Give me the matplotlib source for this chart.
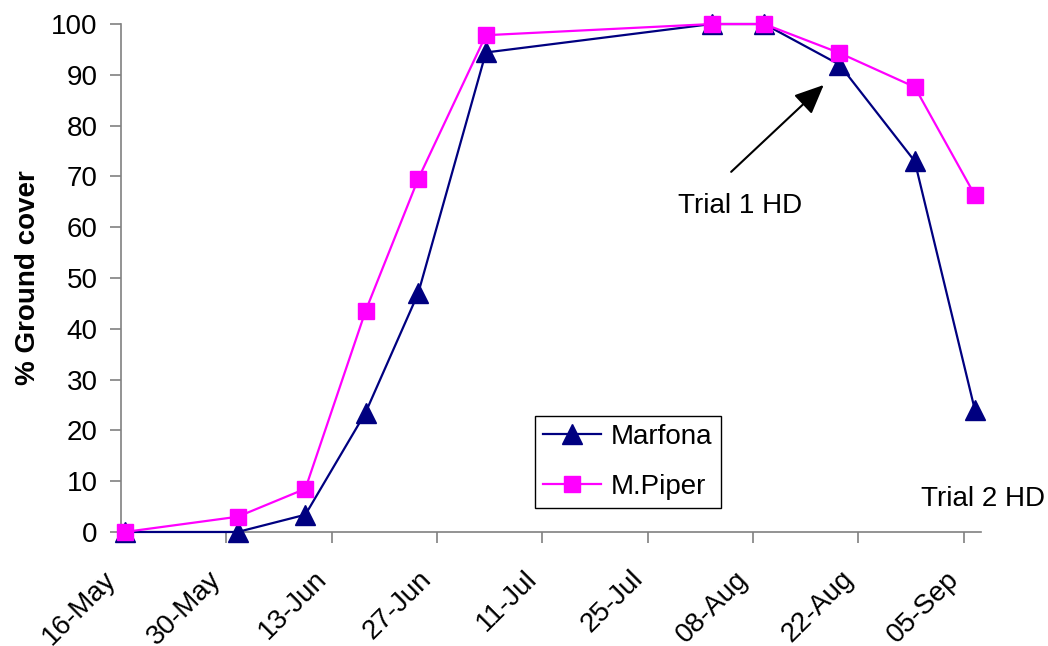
import datetime as dt
import matplotlib
matplotlib.use("Agg")
import matplotlib.pyplot as plt
import matplotlib.dates as mdates
from matplotlib.transforms import ScaledTranslation

plt.rcParams['font.family'] = ['Liberation Sans', 'DejaVu Sans']

# Sampling dates and ground cover (%) for the two varieties
dates = ["2003-05-16", "2003-05-31", "2003-06-09", "2003-06-17", "2003-06-24",
         "2003-07-03", "2003-08-02", "2003-08-09", "2003-08-19", "2003-08-29",
         "2003-09-06"]
marfona = [0, 0, 3.4, 23.5, 47, 94.4, 100, 100, 92, 73, 24]
mpiper = [0, 3, 8.5, 43.5, 69.5, 97.8, 100, 100, 94.3, 87.6, 66.3]

tick_dates = ["2003-05-16", "2003-05-30", "2003-06-13", "2003-06-27", "2003-07-11",
              "2003-07-25", "2003-08-08", "2003-08-22", "2003-09-05"]

# points sit in the middle of their day on the date axis
half_day = dt.timedelta(hours=12)
x = [dt.datetime.strptime(d, "%Y-%m-%d") + half_day for d in dates]
xt = [dt.datetime.strptime(d, "%Y-%m-%d") for d in tick_dates]
base = xt[0]

fig = plt.figure(figsize=(10.48, 6.46), dpi=100)
ax = fig.add_axes([0.1155, 0.1765, 0.8205, 0.7863])

ax.plot(x, marfona, color="#000080", lw=1.6, marker="^", ms=14,
        label="Marfona", clip_on=False, zorder=3)
ax.plot(x, mpiper, color="#FF00FF", lw=1.6, marker="s", ms=11,
        label="M.Piper", clip_on=False, zorder=4)

ax.set_xlim(base, base + dt.timedelta(days=114.3))
ax.set_ylim(0, 100)
ax.set_xticks(xt)
ax.xaxis.set_major_formatter(mdates.DateFormatter("%d-%b"))
ax.set_yticks(range(0, 101, 10))

ax.tick_params(labelsize=20, length=8, width=1.2, color="#808080", direction="out")
ax.tick_params(axis="x", pad=23)
ax.tick_params(axis="y", pad=9)
# slanted date labels, nudged a little left of their ticks
nudge = ScaledTranslation(-9 / 100, 0, fig.dpi_scale_trans)
for lab in ax.get_xticklabels():
    lab.set_rotation(45)
    lab.set_ha("right")
    lab.set_va("center")
    lab.set_rotation_mode("anchor")
    lab.set_transform(lab.get_transform() + nudge)

for s in ["top", "right"]:
    ax.spines[s].set_visible(False)
for s in ["left", "bottom"]:
    ax.spines[s].set_color("#808080")
    ax.spines[s].set_linewidth(1.2)

ax.set_ylabel("% Ground cover", fontsize=20, fontweight="bold", labelpad=7)

leg = ax.legend(loc="lower left", bbox_to_anchor=(0.481, 0.047), fontsize=20,
                frameon=True, fancybox=False, framealpha=1, edgecolor="black",
                handlelength=2.1, borderpad=0.3, labelspacing=0.85,
                handletextpad=0.35, borderaxespad=0)
leg.get_frame().set_linewidth(1.0)

# harvest date annotations
ax.annotate("", xy=(base + dt.timedelta(days=93.4), 88),
            xytext=(base + dt.timedelta(days=81.1), 70.9),
            arrowprops=dict(arrowstyle="-|>,head_length=0.9,head_width=0.4",
                            mutation_scale=20, color="black", lw=1.5,
                            shrinkA=0, shrinkB=0))
ax.text(base + dt.timedelta(days=82.3), 64.2, "Trial 1 HD", fontsize=20,
        ha="center", va="center")
ax.text(base + dt.timedelta(days=114.6), 6.5, "Trial 2 HD", fontsize=20,
        ha="center", va="center", clip_on=False)

fig.savefig("out.png", dpi=100)
